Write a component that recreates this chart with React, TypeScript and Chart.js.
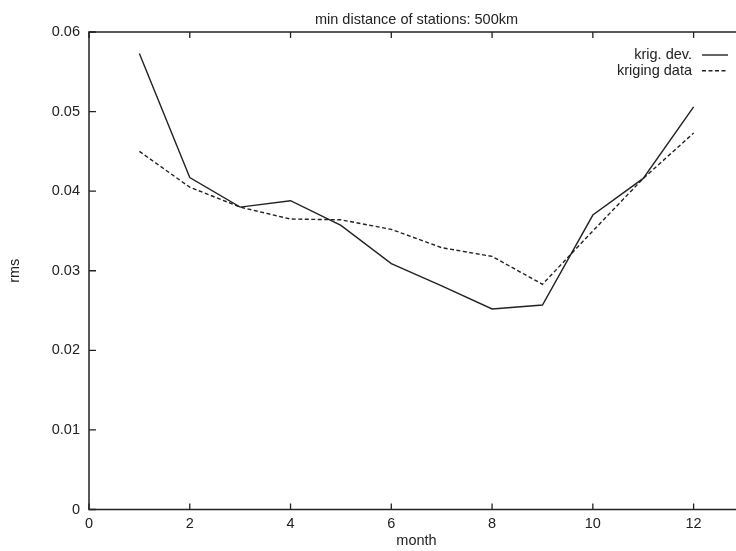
import React, { useEffect, useRef } from "react";
import { Chart, registerables } from "chart.js";

Chart.register(...registerables);

const titleText = "min distance of stations: 500km";
const xAxisTitle = "month";
const yAxisTitle = "rms";
const months = [1, 2, 3, 4, 5, 6, 7, 8, 9, 10, 11, 12];
const krigDev = [0.0573, 0.0417, 0.038, 0.0388, 0.0357, 0.0309, 0.0281, 0.0252, 0.0257, 0.037, 0.0416, 0.0506];
const krigingData = [0.045, 0.0405, 0.038, 0.0365, 0.0364, 0.0352, 0.0329, 0.0318, 0.0283, 0.035, 0.0416, 0.0473];
const seriesLabels = ["krig. dev.", "kriging data"];
const xTickValues = [0, 2, 4, 6, 8, 10, 12];

const FONT = '"Liberation Sans", Arial, Helvetica, sans-serif';
const INK = "#222";

const framePlugin = {
  id: "gnuplotFrame",
  afterDraw(chart: any) {
    const { ctx, chartArea } = chart;
    const { left, right, top, bottom } = chartArea;
    const xs = chart.scales.x;
    const ys = chart.scales.y;
    ctx.save();
    ctx.strokeStyle = INK;
    ctx.lineWidth = 1.5;
    ctx.setLineDash([]);
    ctx.strokeRect(left, top, right - left, bottom - top);
    ctx.lineWidth = 1.3;
    ctx.beginPath();
    xs.ticks.forEach((t: any) => {
      const px = xs.getPixelForValue(t.value);
      ctx.moveTo(px, bottom);
      ctx.lineTo(px, bottom - 6);
      ctx.moveTo(px, top);
      ctx.lineTo(px, top + 6);
    });
    ys.ticks.forEach((t: any) => {
      const py = ys.getPixelForValue(t.value);
      ctx.moveTo(left, py);
      ctx.lineTo(left + 7, py);
    });
    ctx.stroke();

    // legend, gnuplot style: text right-aligned, then sample line
    ctx.font = `14.5px ${FONT}`;
    ctx.fillStyle = INK;
    ctx.textAlign = "right";
    ctx.textBaseline = "middle";
    chart.data.datasets.forEach((ds: any, i: number) => {
      const y = top + 23 + i * 15.7;
      ctx.fillText(ds.label, right - 52, y);
      ctx.save();
      ctx.strokeStyle = ds.borderColor;
      ctx.lineWidth = ds.borderWidth;
      ctx.setLineDash(ds.borderDash || []);
      ctx.beginPath();
      ctx.moveTo(right - 42, y);
      ctx.lineTo(right - 16, y);
      ctx.stroke();
      ctx.restore();
    });
    ctx.restore();
  },
};

export default function App() {
  const ref = useRef<HTMLCanvasElement | null>(null);

  useEffect(() => {
    if (!ref.current) return;
    const chart = new Chart(ref.current, {
      type: "line",
      data: {
        datasets: [
          {
            label: seriesLabels[0],
            data: months.map((m, i) => ({ x: m, y: krigDev[i] })),
            borderColor: INK,
            borderWidth: 1.4,
            pointRadius: 0,
            tension: 0,
            fill: false,
          },
          {
            label: seriesLabels[1],
            data: months.map((m, i) => ({ x: m, y: krigingData[i] })),
            borderColor: INK,
            borderWidth: 1.4,
            borderDash: [4, 2.5],
            pointRadius: 0,
            tension: 0,
            fill: false,
          },
        ],
      },
      options: {
        animation: false,
        responsive: true,
        maintainAspectRatio: false,
        layout: { padding: 0 },
        plugins: {
          legend: { display: false },
          tooltip: { enabled: false },
          title: {
            display: true,
            text: titleText,
            color: INK,
            font: { family: FONT, size: 14.5, weight: "normal" },
            padding: { top: 11, bottom: 3.6 },
          },
        },
        scales: {
          x: {
            type: "linear",
            min: 0,
            max: 13,
            grid: { display: false, drawTicks: false, tickLength: 0 },
            border: { display: false },
            afterBuildTicks: (scale: any) => {
              scale.ticks = xTickValues.map((v) => ({ value: v }));
            },
            afterFit: (scale: any) => {
              scale.height = 41.5;
            },
            ticks: {
              color: INK,
              padding: 6,
              maxRotation: 0,
              autoSkip: false,
              font: { family: FONT, size: 14.5 },
            },
            title: {
              display: true,
              text: xAxisTitle,
              color: INK,
              font: { family: FONT, size: 14.5 },
              padding: { top: 0, bottom: 1 },
            },
          },
          y: {
            type: "linear",
            position: "left",
            min: 0,
            max: 0.06,
            grid: { display: false, drawTicks: false, tickLength: 0 },
            border: { display: false },
            afterFit: (scale: any) => {
              scale.width = 89;
            },
            ticks: {
              stepSize: 0.01,
              color: INK,
              padding: 9,
              font: { family: FONT, size: 14.5 },
            },
            title: {
              display: true,
              text: yAxisTitle,
              color: INK,
              font: { family: FONT, size: 14.5 },
              padding: { top: 6.3, bottom: 0 },
            },
          },
          yRight: {
            type: "linear",
            position: "right",
            min: 0,
            max: 0.06,
            grid: { display: false, drawTicks: false, tickLength: 0 },
            border: { display: false },
            ticks: { display: false },
            afterFit: (scale: any) => {
              scale.width = 89;
            },
          },
        },
      },
      plugins: [framePlugin],
    });
    return () => chart.destroy();
  }, []);

  return (
    <div
      style={{
        position: "fixed",
        left: 0,
        top: 0,
        width: 736,
        height: 551,
        overflow: "hidden",
        background: "#fff",
      }}
    >
      <div style={{ position: "relative", width: 833, height: 551 }}>
        <canvas ref={ref} style={{ display: "block" }} />
      </div>
    </div>
  );
}
